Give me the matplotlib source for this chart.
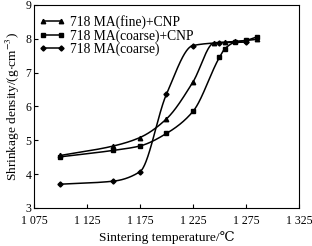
import numpy as np
import matplotlib
matplotlib.use("Agg")
import matplotlib.pyplot as plt
from matplotlib.lines import Line2D

plt.rcParams['font.family'] = ['Liberation Serif', 'DejaVu Serif']
plt.rcParams['mathtext.fontset'] = 'stix'

# --------------- [Data] --------------- #
fine_cnp_t = [1100, 1150, 1175, 1200, 1225, 1245, 1255, 1265, 1275, 1285]
fine_cnp_d = [4.55, 4.83, 5.08, 5.63, 6.72, 7.88, 7.90, 7.92, 7.95, 7.98]

coarse_cnp_t = [1100, 1150, 1175, 1200, 1225, 1250, 1255, 1265, 1275, 1285]
coarse_cnp_d = [4.51, 4.70, 4.83, 5.20, 5.85, 7.45, 7.70, 7.90, 7.95, 8.05]

coarse_t = [1100, 1150, 1175, 1200, 1225, 1250, 1275]
coarse_d = [3.70, 3.79, 4.07, 6.36, 7.80, 7.88, 7.90]

labels = ["718 MA(fine)+CNP", "718 MA(coarse)+CNP", "718 MA(coarse)"]
markers = ["^", "s", "D"]
xticks = [1075, 1125, 1175, 1225, 1275, 1325]
xticklabels = ["1 075", "1 125", "1 175", "1 225", "1 275", "1 325"]


def pchip(x, y, xs):
    # monotone cubic hermite, just for a smooth curve through the points
    x = np.asarray(x, float)
    y = np.asarray(y, float)
    h = np.diff(x)
    d = np.diff(y) / h
    m = np.zeros_like(y)
    for i in range(1, len(x) - 1):
        if d[i - 1] * d[i] > 0:
            w1 = 2 * h[i] + h[i - 1]
            w2 = h[i] + 2 * h[i - 1]
            m[i] = (w1 + w2) / (w1 / d[i - 1] + w2 / d[i])
    m[0] = d[0]
    m[-1] = d[-1]
    idx = np.clip(np.searchsorted(x, xs) - 1, 0, len(x) - 2)
    t = (xs - x[idx]) / h[idx]
    h00 = 2 * t**3 - 3 * t**2 + 1
    h10 = t**3 - 2 * t**2 + t
    h01 = -2 * t**3 + 3 * t**2
    h11 = t**3 - t**2
    return h00 * y[idx] + h10 * h[idx] * m[idx] + h01 * y[idx + 1] + h11 * h[idx] * m[idx + 1]


fig = plt.figure(figsize=(3.12, 2.46), dpi=100)
ax = fig.add_axes([0.109, 0.155, 0.849, 0.825])

series = [(fine_cnp_t, fine_cnp_d), (coarse_cnp_t, coarse_cnp_d), (coarse_t, coarse_d)]
handles = []
for (t, d), mk, lab in zip(series, markers, labels):
    xs = np.linspace(t[0], t[-1], 400)
    ax.plot(xs, pchip(t, d, xs), color="black", lw=1.1)
    ax.plot(t, d, ls="none", marker=mk, ms=3.2 if mk != "D" else 2.6, color="black")
    handles.append(Line2D([0], [0], color="black", lw=1.1, marker=mk,
                          ms=3.2 if mk != "D" else 2.6, markevery=[0], label=lab))

ax.set_xlim(1075, 1325)
ax.set_ylim(3, 9)
ax.set_xticks(xticks)
ax.set_xticklabels(xticklabels)
ax.set_yticks(range(3, 10))
ax.tick_params(direction="in", length=3, width=0.8, labelsize=8.5)
ax.tick_params(axis="x", pad=5)
ax.tick_params(axis="y", pad=2)
for s in ax.spines.values():
    s.set_linewidth(0.8)

ax.set_xlabel("Sintering temperature/℃", fontsize=9.6, labelpad=3)
ax.set_ylabel("Shrinkage density/(g$\\cdot$cm$^{-3}$)", fontsize=9.6, labelpad=2)

ax.legend(handles=handles, loc="upper left", frameon=False, fontsize=9.8,
          numpoints=2, handlelength=1.9, handletextpad=0.35, labelspacing=0.0,
          borderaxespad=0.0, borderpad=0.0, bbox_to_anchor=(0.02, 0.95))

fig.savefig("out.png", dpi=100)
